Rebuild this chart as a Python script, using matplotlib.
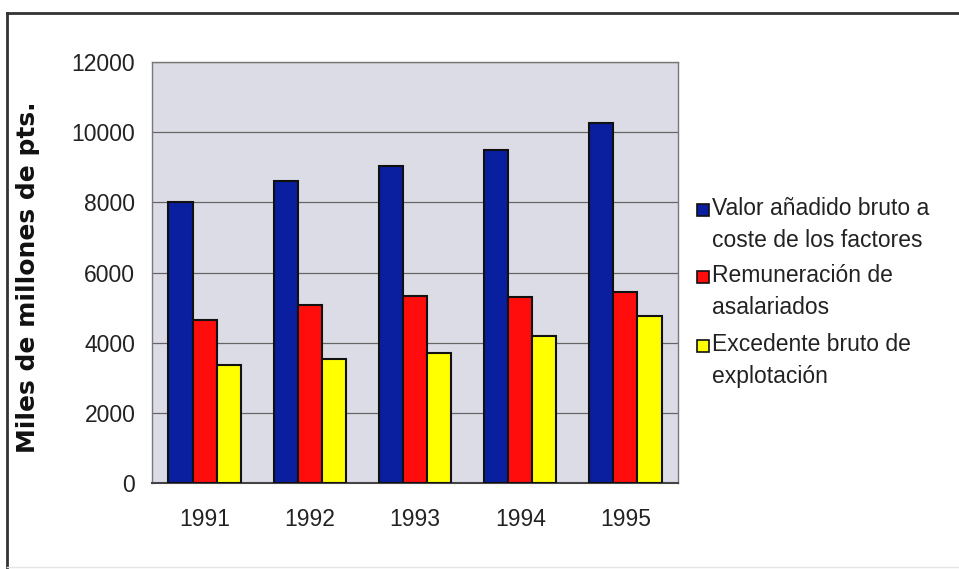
import numpy as np
import matplotlib
matplotlib.use("Agg")
import matplotlib.pyplot as plt
from matplotlib.lines import Line2D
from matplotlib.patches import Rectangle

# data
years = ["1991", "1992", "1993", "1994", "1995"]
valor_anadido = [8000, 8600, 9030, 9500, 10250]
remuneracion = [4650, 5080, 5320, 5290, 5450]
excedente = [3370, 3540, 3700, 4180, 4770]

labels = ["Valor añadido bruto a\ncoste de los factores",
          "Remuneración de\nasalariados",
          "Excedente bruto de\nexplotación"]
colors = ["#0a1ea0", "#ff0d0d", "#ffff00"]

plt.rcParams['font.family'] = ['Liberation Sans', 'DejaVu Sans']

W, H = 959, 569
fig = plt.figure(figsize=(W / 100, H / 100), dpi=100)
ax = fig.add_axes([152 / W, 1 - 483 / H, 526 / W, 421 / H])

# outer frame: top and left edges dark, bottom faint
fig.add_artist(Line2D([7 / W, 1], [1 - 13 / H, 1 - 13 / H], transform=fig.transFigure,
                      color="#333333", linewidth=2.0))
fig.add_artist(Line2D([7 / W, 7 / W], [0, 1 - 13 / H], transform=fig.transFigure,
                      color="#333333", linewidth=2.0))
fig.add_artist(Line2D([7 / W, 1], [2 / H, 2 / H], transform=fig.transFigure,
                      color="#e4e4e4", linewidth=1.0))

x = np.arange(len(years))
w = 0.23
series = [valor_anadido, remuneracion, excedente]
for i, (vals, c) in enumerate(zip(series, colors)):
    ax.bar(x + (i - 1) * w, vals, width=w, color=c, edgecolor="#111111",
           linewidth=1.5, zorder=3)

ax.set_facecolor("#dcdce6")
ax.set_xlim(-0.5, 4.5)
ax.set_ylim(0, 12000)
ax.set_yticks(range(0, 12001, 2000))
ax.set_xticks(x)
ax.set_xticklabels(years)
ax.tick_params(axis="both", length=0, labelsize=16.5, colors="#222222")
ax.tick_params(axis="y", pad=12)
ax.tick_params(axis="x", pad=18)
ax.grid(axis="y", color="#666666", linewidth=0.9, zorder=1)
for s in ax.spines.values():
    s.set_color("#777777")
    s.set_linestyle((0, (1, 1)))
    s.set_linewidth(1.0)
ax.spines["bottom"].set_linestyle("-")
ax.spines["bottom"].set_color("#444444")
ax.spines["bottom"].set_linewidth(1.5)

fig.text(28 / W, 1 - 277 / H, "Miles de millones de pts.", rotation=90,
         ha="center", va="center", fontsize=18, fontweight="bold",
         family="DejaVu Sans", color="#111111")

# legend drawn by hand so each marker sits on the first line of its label
first_line_y = [210, 277, 346]
for lab, c, yy in zip(labels, colors, first_line_y):
    fig.patches.append(Rectangle((697 / W, 1 - (yy + 6) / H), 12 / W, 12 / H,
                                 transform=fig.transFigure, facecolor=c,
                                 edgecolor="#111111", linewidth=1.2))
    fig.text(712 / W, 1 - (yy - 13) / H, lab, ha="left", va="top",
             fontsize=16.5, color="#222222", linespacing=1.5)

fig.savefig("out.png", dpi=100)
